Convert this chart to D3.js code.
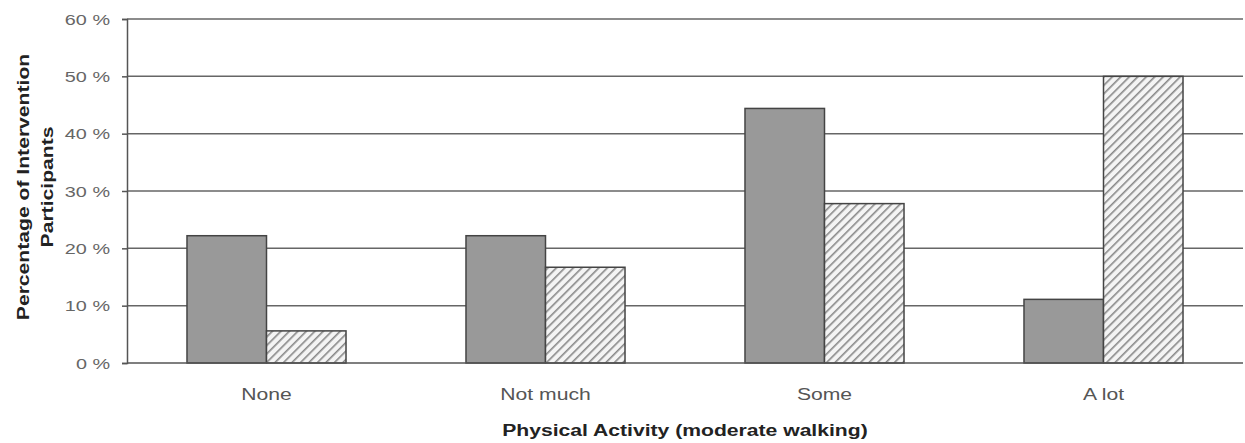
<!DOCTYPE html>
<html><head><meta charset="utf-8">
<script src="https://cdn.jsdelivr.net/npm/d3@7"></script>
<style>body{margin:0;background:#fff}</style>
</head><body>
<svg id="c" width="1245" height="443"></svg>
<script>
const categories = ["None", "Not much", "Some", "A lot"];
const seriesNames = ["Before", "After"];
const beforeValues = [22.2, 22.2, 44.4, 11.1];
const afterValues = [5.6, 16.7, 27.8, 50.0];
const yTicks = [0, 10, 20, 30, 40, 50, 60];
const yTickLabels = ["0 %", "10 %", "20 %", "30 %", "40 %", "50 %", "60 %"];

const FONT = "Liberation Sans, Arial, sans-serif";
const STRETCH = 1.32;
function stretch(sel) {
  sel.each(function() {
    const w = this.getComputedTextLength();
    d3.select(this).attr("textLength", w * STRETCH).attr("lengthAdjust", "spacingAndGlyphs");
  });
}

const svg = d3.select("#c");
const m = {left: 127, right: 1243, top: 19, bottom: 363};
const x = d3.scaleBand().domain(categories).range([m.left, m.right]).paddingInner(0.43).paddingOuter(0.215);
const xs = d3.scaleBand().domain(seriesNames).range([0, x.bandwidth()]);
const y = d3.scaleLinear().domain([0, 60]).range([m.bottom, m.top]);

const defs = svg.append("defs");
const pat = defs.append("pattern").attr("id", "hatch").attr("patternUnits", "userSpaceOnUse")
  .attr("width", 6).attr("height", 6).attr("patternTransform", "rotate(45)");
pat.append("rect").attr("width", 6).attr("height", 6).attr("fill", "#f4f4f4");
pat.append("line").attr("x1", 0).attr("y1", 0).attr("x2", 0).attr("y2", 6)
  .attr("stroke", "#888").attr("stroke-width", 3.2);
defs.append("clipPath").attr("id", "yclip").append("rect")
  .attr("x", 0).attr("y", 55).attr("width", 120).attr("height", 380);

// grid
svg.append("g").selectAll("line").data(yTicks.filter(d => d > 0)).join("line")
  .attr("x1", m.left).attr("x2", m.right).attr("y1", d => y(d)).attr("y2", d => y(d))
  .attr("stroke", "#666").attr("stroke-width", 1.5);

// y axis
const yAxis = d3.axisLeft(y).tickValues(yTicks).tickSize(5).tickPadding(12)
  .tickFormat((d, i) => yTickLabels[i]);
const ya = svg.append("g").attr("transform", `translate(${m.left},0)`).call(yAxis);
ya.select(".domain").attr("stroke", "#555").attr("stroke-width", 1.5);
ya.selectAll(".tick line").attr("stroke", "#555").attr("stroke-width", 1.5);
ya.selectAll(".tick text").attr("fill", "#666").style("font-family", FONT)
  .style("font-size", "15px").attr("dy", "0.35em").call(stretch);

// bars
const g = svg.append("g");
categories.forEach((c, i) => {
  g.append("rect").attr("x", x(c) + xs("Before")).attr("width", xs.bandwidth())
    .attr("y", y(beforeValues[i])).attr("height", y(0) - y(beforeValues[i]))
    .attr("fill", "#999").attr("stroke", "#444").attr("stroke-width", 1.5);
  g.append("rect").attr("x", x(c) + xs("After")).attr("width", xs.bandwidth())
    .attr("y", y(afterValues[i])).attr("height", y(0) - y(afterValues[i]))
    .attr("fill", "url(#hatch)").attr("stroke", "#444").attr("stroke-width", 1.5);
});

// baseline
svg.append("line").attr("x1", m.left).attr("x2", m.right).attr("y1", y(0)).attr("y2", y(0))
  .attr("stroke", "#555").attr("stroke-width", 1.5);

// x labels
const xAxis = d3.axisBottom(x).tickSize(0).tickPadding(0);
const xa = svg.append("g").attr("transform", `translate(0,${m.bottom})`).call(xAxis);
xa.select(".domain").remove();
xa.selectAll(".tick text").attr("fill", "#555").style("font-family", FONT)
  .style("font-size", "16px").attr("y", 37).attr("dy", 0).call(stretch);

// titles
svg.append("text").attr("x", (m.left + m.right) / 2).attr("y", 436).attr("text-anchor", "middle")
  .style("font-family", FONT).style("font-size", "16px")
  .style("font-weight", "bold").attr("fill", "#222").text("Physical Activity (moderate walking)").call(stretch);
const yt = svg.append("g").attr("clip-path", "url(#yclip)");
yt.append("text").attr("transform", "translate(29,187) rotate(-90)").attr("text-anchor", "middle")
  .style("font-family", FONT).style("font-size", "16px")
  .style("font-weight", "bold").attr("fill", "#222").text("Percentage of Intervention").call(stretch);
yt.append("text").attr("transform", "translate(53,187) rotate(-90)").attr("text-anchor", "middle")
  .style("font-family", FONT).style("font-size", "16px")
  .style("font-weight", "bold").attr("fill", "#222").text("Participants").call(stretch);
</script>
</body></html>
